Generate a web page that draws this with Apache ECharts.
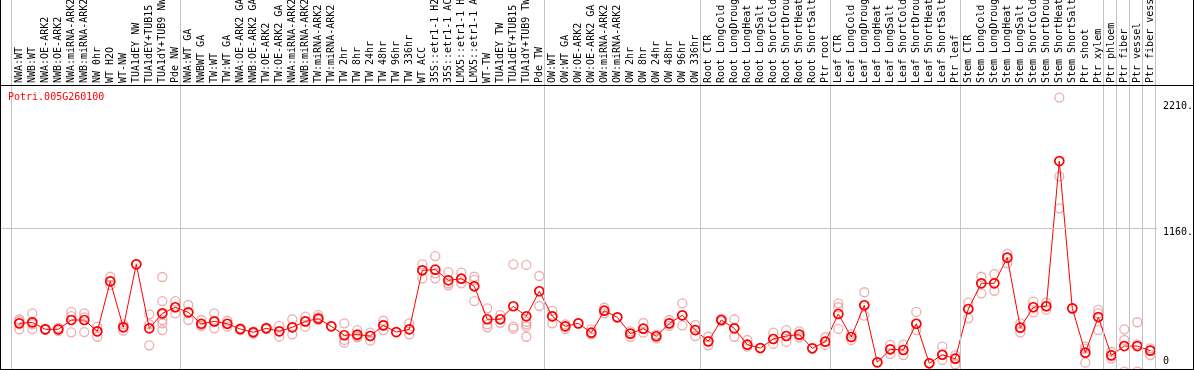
<!DOCTYPE html>
<html><head><meta charset="utf-8">
<script src="https://cdn.jsdelivr.net/npm/echarts@6/dist/echarts.min.js"></script>
<style>html,body{margin:0;padding:0;background:#fff}#c{width:1194px;height:370px}</style>
</head><body><div id="c"></div>
<script>
const chartTitle = 'Potri.005G260100';
const categories = [
 'NWA:WT','NWB:WT','NWA:OE-ARK2','NWB:OE-ARK2','NWA:miRNA-ARK2','NWB:miRNA-ARK2','NW 0hr','WT H2O','WT-NW','TUA1dEY NW','TUA1dEY+TUB15 NW','TUA1dY+TUB9 NW','Pde NW',
 'NWA:WT GA','NWBWT GA','TW:WT','TW:WT GA','NWA:OE-ARK2 GA','NWB:OE-ARK2 GA','TW:OE-ARK2','TW:OE-ARK2 GA','NWA:miRNA-ARK2 GA','NWB:miRNA-ARK2 GA','TW:miRNA-ARK2','TW:miRNA-ARK2 GA','TW 2hr','TW 8hr','TW 24hr','TW 48hr','TW 96hr','TW 336hr','WT ACC','35S::etr1-1 H2O','35S::etr1-1 ACC','LMX5::etr1-1 H2O','LMX5::etr1-1 ACC','WT-TW','TUA1dEY TW','TUA1dEY+TUB15 TW','TUA1dY+TUB9 TW','Pde TW',
 'OW:WT','OW:WT GA','OW:OE-ARK2','OW:OE-ARK2 GA','OW:miRNA-ARK2','OW:miRNA-ARK2 GA','OW 2hr','OW 8hr','OW 24hr','OW 48hr','OW 96hr','OW 336hr',
 'Root CTR','Root LongCold','Root LongDrought','Root LongHeat','Root LongSalt','Root ShortCold','Root ShortDrought','Root ShortHeat','Root ShortSalt','Ptr root',
 'Leaf CTR','Leaf LongCold','Leaf LongDrought','Leaf LongHeat','Leaf LongSalt','Leaf ShortCold','Leaf ShortDrought','Leaf ShortHeat','Leaf ShortSalt','Ptr leaf',
 'Stem CTR','Stem LongCold','Stem LongDrought','Stem LongHeat','Stem LongSalt','Stem ShortCold','Stem ShortDrought','Stem ShortHeat','Stem ShortSalt','Ptr shoot','Ptr xylem',
 'Ptr phloem','Ptr fiber','Ptr vessel','Ptr fiber vessel'
];
const meanValues = [
 389,397,341,341,416,416,325,728,357,865,349,470,519,478,
 386,405,386,343,317,349,325,357,405,427,365,293,298,287,373,319,
 341,817,822,736,749,688,422,422,527,446,648,
 446,365,389,314,491,438,306,346,285,389,454,335,
 244,416,349,217,190,263,287,298,188,241,
 465,279,535,75,180,174,386,67,136,104,
 505,712,712,919,354,519,527,1698,510,153,440,
 131,206,206,169
];
const replicateValues = [
 [422,408,341],[470,381,343],[346,336,341],[354,327,341],[481,448,317],[470,438,319],[362,322,281],[765,725,698],[381,362,330],[865],[462,381,212],[763,569,462,416,389,335],[569,519,470],[537,475,416],
 [416,376,366],[470,402,349],[410,384,362],[343,335,350],[322,306,322],[357,343,349],[368,282,325],[422,301,357],[443,402,362],[456,438,416],[365],[389,255,233],[335,287,277],[314,287,249],[410,376,335],[319],
 [389,341,301],[865,817,752],[932,793,752],[803,712,696],[798,712,749],[765,739,569],[510,381,357],[456,394,422],[865,362,346],[860,402,381,362,281],[771,529,648],
 [489,389,446],[381,343,365],[389],[341,301,314],[515,470,491],[438],[325,281,306],[392,314,346],[285,269,298],[416,368,389],[551,373,454],[376,287,335],
 [281,212,244],[427,405,416],[422,281,349],[255,201,217],[190],[314,223,263],[335,239,287],[325,277,298],[188],[277,241,215],
 [551,519,344],[303,255,279],[640,451,535],[75],[215,142,180],[217,134,174],[481,335,386],[67],[201,94,136],[131,59,104],
 [556,430,505],[765,631,712],[787,652,712],[951,873,919],[389,317,354],[564,478,519],[556,499,527],[2210,1575,1317],[510],[201,72,186],[497,470,335],
 [160,107,131],[341,255,0],[398,0,220],[188,134,169]
];
const groupStarts = [0,13,41,53,63,73,84,85,86,87,88];
const yTickValues = [2210,1160,0];
const yTickLabels = ['2210.','1160.','0'];
const gridLineValue = 1160;

// layout constants
const X_MIN = -1.408, X_MAX = 87.515;
const Y_MAX = 2996.8;
const SEP_OFFSET = 0.6;
const MONO = 'DejaVu Sans Mono';

const chart = echarts.init(document.getElementById('c'), null, {renderer:'canvas'});

const meanData = meanValues.map((v,i)=>[i,v]);
const repData = [];
replicateValues.forEach((arr,i)=>arr.forEach(v=>repData.push([i,v])));

chart.setOption({
  animation:false,
  backgroundColor:'#fff',
  title:{text:chartTitle,left:8,top:92,padding:0,textStyle:{fontFamily:MONO,fontSize:10,fontWeight:'normal',color:'#ff0000'}},
  grid:{left:1,top:0,width:1156,height:371.6,containLabel:false,outerBoundsMode:'none'},
  xAxis:{type:'value',min:X_MIN,max:X_MAX,position:'top',offset:-85,
    axisLine:{show:false},axisTick:{show:false},splitLine:{show:false},
    axisLabel:{customValues:categories.map((_,i)=>i),formatter:(v)=>categories[Math.round(v)]||'',
      rotate:90,margin:2,fontFamily:MONO,fontSize:10,color:'#000'}},
  yAxis:{type:'value',min:0,max:Y_MAX,show:false,splitLine:{show:false}},
  series:[
    {type:'scatter',name:'replicates',data:repData,symbol:'circle',symbolSize:9,z:2,silent:true,
     itemStyle:{color:'rgba(255,255,255,0)',borderColor:'#e89a9a',borderWidth:1.3},
     markLine:{silent:true,symbol:['none','none'],label:{show:false},animation:false,
       lineStyle:{color:'#c4c4c4',type:'solid',width:1},
       data:groupStarts.map(s=>({xAxis:s-SEP_OFFSET})).concat([{yAxis:gridLineValue}])}},
    {type:'line',name:'mean',data:meanData,symbol:'circle',symbolSize:9,z:3,silent:true,
     lineStyle:{color:'#ff0000',width:1},
     itemStyle:{color:'rgba(255,255,255,0)',borderColor:'#ff0000',borderWidth:1.7}}
  ]
});

const g = [];
const line = (x1,y1,x2,y2)=>({type:'line',silent:true,z:10,shape:{x1,y1,x2,y2},style:{stroke:'#000',lineWidth:1}});
g.push(line(0.5,0,0.5,370));
g.push(line(1193.5,0,1193.5,370));
g.push(line(0,85.5,1194,85.5));
g.push(line(0,369.5,1194,369.5));
const labelShift = [9,5,-10];
yTickValues.forEach((v,k)=>{
  const y = chart.convertToPixel({yAxisIndex:0}, v);
  g.push({type:'text',silent:true,z:10,x:1163,y:y+labelShift[k],
    style:{text:yTickLabels[k],fontFamily:MONO,fontSize:10,fill:'#000',align:'left',verticalAlign:'middle'}});
});
chart.setOption({graphic:g});
</script></body></html>
